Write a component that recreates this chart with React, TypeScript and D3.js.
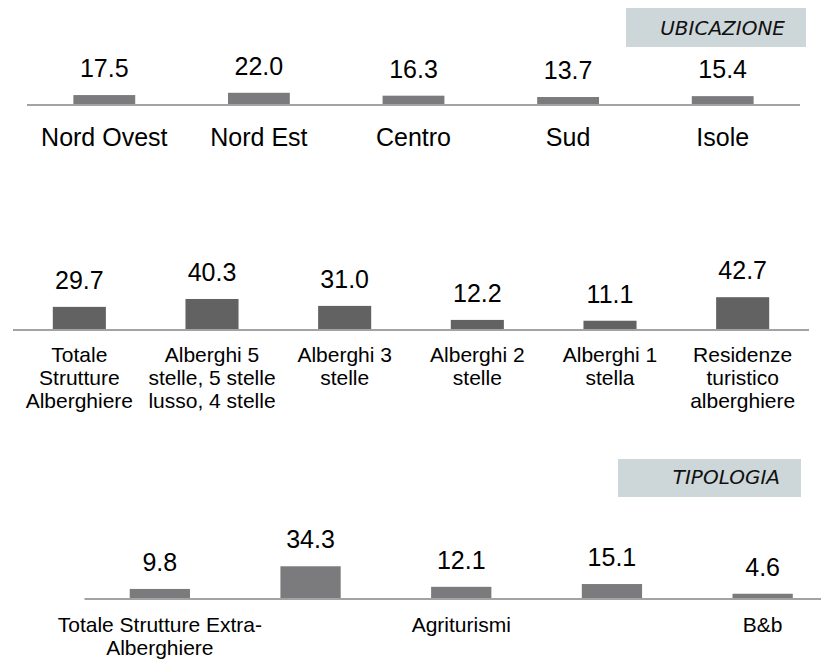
import React from "react";
import * as d3 from "d3";

// ---- Data ----
const ubicCategories = ["Nord Ovest", "Nord Est", "Centro", "Sud", "Isole"];
const ubicValues = [17.5, 22.0, 16.3, 13.7, 15.4];

const albCategories = [
  ["Totale", "Strutture", "Alberghiere"],
  ["Alberghi 5", "stelle, 5 stelle", "lusso, 4 stelle"],
  ["Alberghi 3", "stelle"],
  ["Alberghi 2", "stelle"],
  ["Alberghi 1", "stella"],
  ["Residenze", "turistico", "alberghiere"],
];
const albValues = [29.7, 40.3, 31.0, 12.2, 11.1, 42.7];

const extraCategories = [
  ["Totale Strutture Extra-", "Alberghiere"],
  [],
  ["Agriturismi"],
  [],
  ["B&b"],
];
const extraValues = [9.8, 34.3, 12.1, 15.1, 4.6];

const sectionTitles = ["UBICAZIONE", "TIPOLOGIA"];

const W = 821;
const H = 659;
const FONT = "'Liberation Sans', Arial, Helvetica, sans-serif";

type PanelProps = {
  labels: string[][];
  values: number[];
  x0: number;
  x1: number;
  axisY: number;
  pxPerUnit: number;
  color: string;
  valueSize: number;
  labelSize: number;
  labelY: number;
  lineH: number;
  lineEnd?: number;
};

function Panel(p: PanelProps) {
  const idx = p.values.map((_, i) => String(i));
  const x = d3
    .scaleBand<string>()
    .domain(idx)
    .range([p.x0, p.x1])
    .paddingInner(0.6)
    .paddingOuter(0.3);
  const h = d3.scaleLinear().domain([0, 50]).range([0, 50 * p.pxPerUnit]);
  const base = p.axisY - 1;
  return (
    <g>
      <line
        x1={p.x0}
        x2={p.lineEnd ?? p.x1}
        y1={p.axisY}
        y2={p.axisY}
        stroke="#a3a3a3"
        strokeWidth={2}
      />
      {p.values.map((v, i) => {
        const bx = x(String(i))!;
        const bh = h(v);
        const cx = bx + x.bandwidth() / 2;
        return (
          <g key={i}>
            <rect x={bx} y={base - bh} width={x.bandwidth()} height={bh} fill={p.color} />
            <text
              x={cx}
              y={base - bh - 18}
              textAnchor="middle"
              fontFamily={FONT}
              fontSize={p.valueSize}
              fill="#000"
            >
              {v.toFixed(1)}
            </text>
            <text
              x={cx}
              y={p.labelY}
              textAnchor="middle"
              fontFamily={FONT}
              fontSize={p.labelSize}
              fill="#000"
            >
              {p.labels[i].map((ln, j) => (
                <tspan key={j} x={cx} y={p.labelY + j * p.lineH}>
                  {ln}
                </tspan>
              ))}
            </text>
          </g>
        );
      })}
    </g>
  );
}

function TitleBox({ x, y, w, h, text, baseline }: { x: number; y: number; w: number; h: number; text: string; baseline: number }) {
  return (
    <g>
      <rect x={x} y={y} width={w} height={h} fill="#cdd6d9" />
      <text
        x={x + w - 21}
        y={baseline}
        textAnchor="end"
        fontFamily="'DejaVu Sans', Verdana, sans-serif"
        fontStyle="italic"
        fontSize={20}
        fill="#111"
      >
        {text}
      </text>
    </g>
  );
}

export default function App() {
  return (
    <svg
      width={W}
      height={H}
      style={{ position: "absolute", left: 0, top: 0, background: "#fff" }}
    >
      <rect width={W} height={H} fill="#fff" />
      <TitleBox x={626} y={8} w={180} h={39} text={sectionTitles[0]} baseline={35} />
      <Panel
        labels={ubicCategories.map((c) => [c])}
        values={ubicValues}
        x0={27}
        x1={800}
        axisY={105}
        pxPerUnit={0.51}
        color="#7b7b7e"
        valueSize={25}
        labelSize={25}
        labelY={146}
        lineH={25}
      />
      <Panel
        labels={albCategories}
        values={albValues}
        x0={13}
        x1={809}
        axisY={330}
        pxPerUnit={0.745}
        color="#626262"
        valueSize={25}
        labelSize={21}
        labelY={362}
        lineH={23}
      />
      <TitleBox x={618} y={459} w={183} h={38} text={sectionTitles[1]} baseline={484} />
      <Panel
        labels={extraCategories}
        values={extraValues}
        x0={84.5}
        x1={838}
        axisY={599}
        pxPerUnit={0.925}
        color="#7b7b7e"
        valueSize={25}
        labelSize={21}
        labelY={632}
        lineH={23}
        lineEnd={821}
      />
    </svg>
  );
}
